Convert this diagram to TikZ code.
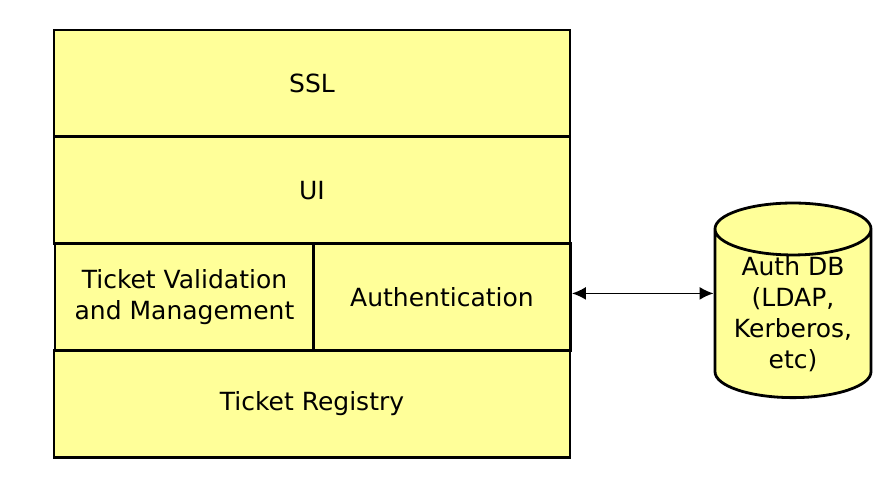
\documentclass[tikz,border=0pt]{standalone}
\usepackage{fontspec}
\setmainfont{DejaVu Sans}
\usetikzlibrary{positioning, shapes.geometric, arrows.meta}

\definecolor{boxyellow}{HTML}{FFFF99}

\tikzset{
  layer/.style={draw, line width=1.4pt, fill=boxyellow, minimum width=258pt,
    minimum height=53.4pt, inner sep=0pt, align=center},
  store/.style={cylinder, shape border rotate=90, aspect=0.44, draw,
    line width=1.4pt, fill=boxyellow, minimum width=78pt,
    minimum height=81pt, inner sep=0pt, align=center}
}

\begin{document}
\begin{tikzpicture}[x=0.5pt, y=-0.5pt, node distance=53.4pt, on grid,
    font=\fontsize{12.5}{15.5}\selectfont, >={Latex[length=7pt,width=6.5pt]}]
    \useasboundingbox (0,0) rectangle (889,489);

    \node[layer] (ssl) at (312,83.4) {SSL};
    \node[layer] (ui) [below=of ssl] {UI};
    \node[layer, minimum width=129.5pt] (tvm) [below left=53.4pt and 63.75pt of ui]
        {Ticket Validation\\and Management};
    \node[layer, minimum width=128.5pt] (auth) [right=128.75pt of tvm] {Authentication};
    \node[layer] (reg) [below=106.8pt of ui] {Ticket Registry};
    \node[store] (db) at (793,314) {Auth DB\\(LDAP,\\Kerberos,\\etc)};

    \draw[<->, line width=0.9pt]
        ([yshift=1.8pt]auth.east) -- ([yshift=1.8pt]auth.east -| db.west);
\end{tikzpicture}
\end{document}
